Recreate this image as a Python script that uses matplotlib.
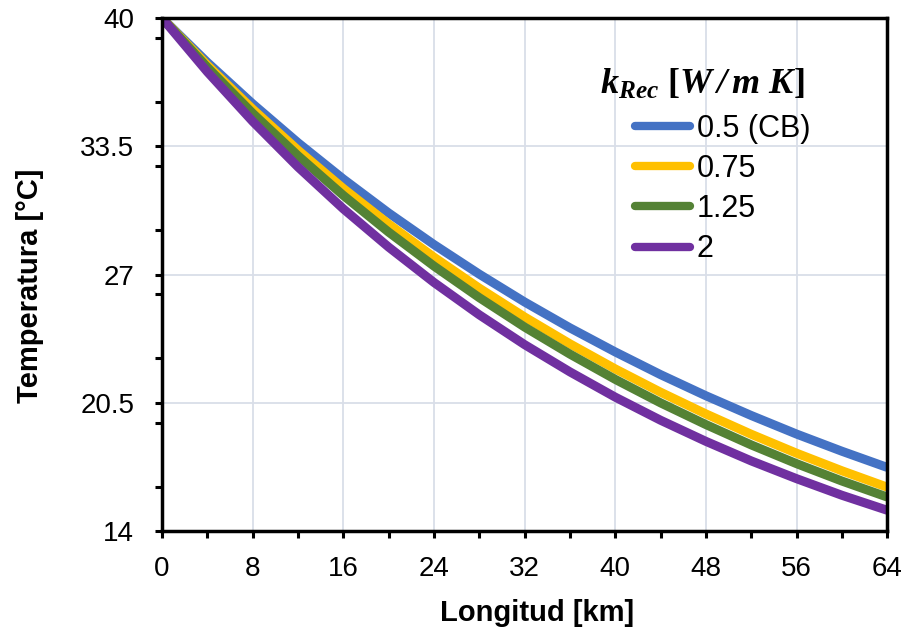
import matplotlib.pyplot as plt
from matplotlib.ticker import MultipleLocator, FixedLocator

plt.rcParams["font.family"] = ["Liberation Sans", "DejaVu Sans"]
plt.rcParams["mathtext.fontset"] = "custom"
plt.rcParams["mathtext.rm"] = "Liberation Serif:bold"
plt.rcParams["mathtext.bf"] = "Liberation Serif:bold:italic"
plt.rcParams["mathtext.it"] = "Liberation Serif:bold:italic"

# longitud [km]
longitud = [0, 4, 8, 12, 16, 20, 24, 28, 32, 36, 40, 44, 48, 52, 56, 60, 64]

# temperatura [°C] for each k_Rec value
temp_05 = [40.00, 37.75, 35.65, 33.68, 31.84, 30.12, 28.52, 27.02, 25.61,
           24.30, 23.08, 21.93, 20.86, 19.86, 18.92, 18.05, 17.23]
temp_075 = [40.00, 37.61, 35.38, 33.30, 31.36, 29.56, 27.88, 26.31, 24.85,
            23.49, 22.22, 21.04, 19.94, 18.91, 17.95, 17.06, 16.23]
temp_125 = [40.00, 37.50, 35.17, 33.02, 31.01, 29.15, 27.43, 25.83, 24.34,
            22.97, 21.69, 20.50, 19.40, 18.37, 17.42, 16.54, 15.73]
temp_2 = [40.00, 37.27, 34.76, 32.45, 30.33, 28.39, 26.60, 24.96, 23.45,
          22.07, 20.79, 19.62, 18.55, 17.56, 16.66, 15.82, 15.06]

series = [
    ("0.5 (CB)", temp_05, "#4472C4"),
    ("0.75", temp_075, "#FFC000"),
    ("1.25", temp_125, "#548235"),
    ("2", temp_2, "#7030A0"),
]

y_ticks = [14, 20.5, 27, 33.5, 40]
y_labels = ["14", "20.5", "27", "33.5", "40"]

fig = plt.figure(figsize=(9.1, 6.4), dpi=100)
ax = fig.add_axes([0.178, 0.170, 0.797, 0.802])

for label, temps, color in series:
    ax.plot(longitud, temps, color=color, linewidth=6.5, label=label,
            solid_capstyle="butt")

ax.set_xlim(0, 64)
ax.set_ylim(14, 40)
ax.xaxis.set_major_locator(MultipleLocator(8))
ax.xaxis.set_minor_locator(MultipleLocator(4))
ax.yaxis.set_major_locator(FixedLocator(y_ticks))
ax.set_yticklabels(y_labels)
ax.yaxis.set_minor_locator(MultipleLocator(3.25))

ax.grid(True, which="major", color="#D9DEE8", linewidth=1.3)
ax.set_axisbelow(True)

for spine in ax.spines.values():
    spine.set_linewidth(2.5)
    spine.set_color("black")

ax.tick_params(which="both", direction="out", width=2.2, length=5,
               labelsize=20, colors="black")
ax.tick_params(axis="x", which="major", pad=13)
ax.tick_params(axis="y", which="major", pad=15)

ax.set_xlabel("Longitud [km]", fontsize=21, weight="bold")
ax.set_ylabel("Temperatura [°C]", fontsize=21, weight="bold")
ax.xaxis.set_label_coords(0.517, -0.133)
ax.yaxis.set_label_coords(-0.163, 0.478)

# legend title drawn separately so its position can be matched
fig.text(702 / 910, 1 - 84 / 640,
         r"$\mathbf{k_{Rec}}\ [\mathbf{W\,/\,m\ K}]$",
         fontsize=26, ha="center", va="center")

leg = ax.legend(
    loc="upper left",
    bbox_to_anchor=(635 / 910, 1 - 114 / 640),
    bbox_transform=fig.transFigure,
    frameon=False,
    fontsize=22,
    handlelength=1.8,
    handletextpad=0.22,
    labelspacing=0.33,
    borderpad=0,
    borderaxespad=0,
)
for line in leg.get_lines():
    line.set_linewidth(6)
    line.set_solid_capstyle("round")

plt.savefig("out.png", dpi=100)
plt.close()
